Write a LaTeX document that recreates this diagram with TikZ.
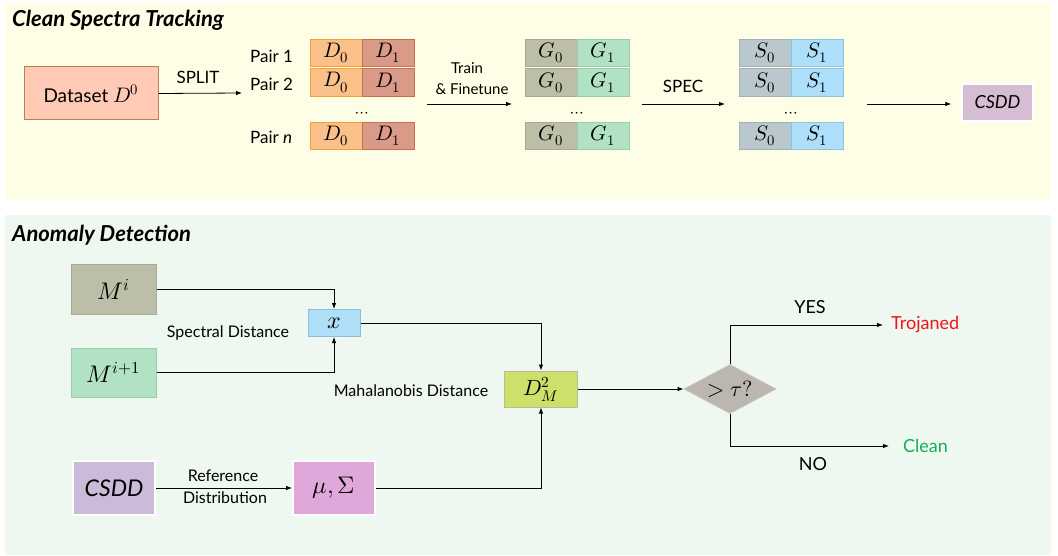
\documentclass[tikz,border=0pt]{standalone}
\usepackage{fontspec}
\usepackage{unicode-math}
\setmainfont{Lato}
\setmathfont{Latin Modern Math}
\usetikzlibrary{arrows.meta,shapes.geometric}
\newcommand\myfs[1]{\fontsize{#1}{#1}\selectfont}
\definecolor{topbg}{HTML}{FEFEE6}
\definecolor{botbg}{HTML}{EEF7F0}
\definecolor{dsfill}{HTML}{FFCAB5}
\definecolor{dsdraw}{HTML}{B88150}
\definecolor{dzfill}{HTML}{F9C08A}
\definecolor{dzdraw}{HTML}{F5A030}
\definecolor{dofill}{HTML}{D99A88}
\definecolor{dodraw}{HTML}{C8704E}
\definecolor{gzfill}{HTML}{BCBEA8}
\definecolor{gzdraw}{HTML}{A8AA94}
\definecolor{gofill}{HTML}{B2E2C4}
\definecolor{godraw}{HTML}{9CCBAE}
\definecolor{szfill}{HTML}{BAC7CC}
\definecolor{szdraw}{HTML}{A2B0B8}
\definecolor{sofill}{HTML}{AEDFFA}
\definecolor{sodraw}{HTML}{8CC4E4}
\definecolor{csfill}{HTML}{D5BED3}
\definecolor{cs2fill}{HTML}{CBBBD9}
\definecolor{mufill}{HTML}{E0A8DA}
\definecolor{xfill}{HTML}{AEDEF8}
\definecolor{xdraw}{HTML}{90BCD6}
\definecolor{dmfill}{HTML}{CCE06A}
\definecolor{dmdraw}{HTML}{B4BC98}
\definecolor{diafill}{HTML}{BCB6B0}
\definecolor{diadraw}{HTML}{C8C2BC}
\definecolor{trojred}{HTML}{F21414}
\definecolor{cleangreen}{HTML}{12B050}
\tikzset{
  cell/.style={draw, line width=0.8pt, minimum width=52pt, minimum height=27.5pt, inner sep=0pt, font=\myfs{21}},
  bigbox/.style={draw, line width=1pt, inner sep=0pt, font=\myfs{24}},
  lbl/.style={inner sep=0pt, font=\myfs{16}},
  biglbl/.style={inner sep=0pt, font=\myfs{18}},
  ttl/.style={inner sep=0pt, anchor=west, font=\myfs{22}\bfseries\itshape},
  arr/.style={-{Latex[length=6pt,width=4.5pt]}, line width=0.8pt, black}
}
\begin{document}
\begin{tikzpicture}[x=1pt,y=-1pt]
\useasboundingbox (0,0) rectangle (1058,556);
\fill[topbg] (5,3) rectangle (1051,200);
\fill[botbg] (5,215) rectangle (1051,555);

% ---------- top panel ----------
\node[ttl] (t1) at (12,20) {Clean Spectra Tracking};
\node[draw=dsdraw, fill=dsfill, line width=1pt, minimum width=134pt, minimum height=53pt, inner sep=0pt, font=\myfs{19}] (ds) at (91,93.5) {Dataset {\myfs{21}$D^0$}};

\coordinate (splitend) at (242,93);
\draw[arr] (ds.east) -- (splitend);
\node[biglbl, font=\myfs{17}] (split) at (198,77) {SPLIT};

\node[biglbl, font=\myfs{17}, anchor=base west] (p1) at (250,62.5) {Pair 1};
\node[biglbl, font=\myfs{17}, anchor=base west] (p2) at (250,90.5) {Pair 2};
\node[biglbl, font=\myfs{17}, anchor=base west] (pn) at (250,143.5) {Pair \textit{n}};

\foreach \r/\y in {a/53,b/82.5,c/136}{
  \node[cell, draw=dzdraw, fill=dzfill] (d0\r) at (336,\y) {$D_0$};
  \node[cell, draw=dodraw, fill=dofill] (d1\r) at (388,\y) {$D_1$};
  \node[cell, draw=gzdraw, fill=gzfill] (g0\r) at (551,\y) {$G_0$};
  \node[cell, draw=godraw, fill=gofill] (g1\r) at (603,\y) {$G_1$};
  \node[cell, draw=szdraw, fill=szfill] (s0\r) at (765,\y) {$S_0$};
  \node[cell, draw=sodraw, fill=sofill] (s1\r) at (817,\y) {$S_1$};
}
\node[lbl, font=\myfs{17}, anchor=base] (dd) at (362,118) {$\cdots$};
\node[lbl, font=\myfs{17}, anchor=base] (gd) at (577,118) {$\cdots$};
\node[lbl, font=\myfs{17}, anchor=base] (sd) at (791,118) {$\cdots$};

\coordinate (tr1) at (427,104);
\coordinate (tr2) at (512,104);
\draw[arr] (tr1) -- (tr2);
\node[lbl, font=\myfs{15}] (train) at (467,68) {Train};
\node[lbl, font=\myfs{15}] (fine) at (472,89) {\& Finetune};

\coordinate (sp1) at (642,104);
\coordinate (sp2) at (725,104);
\draw[arr] (sp1) -- (sp2);
\node[biglbl, font=\myfs{17}] (spec) at (683,86) {SPEC};

\node[draw=white, fill=csfill, line width=1.5pt, minimum width=71pt, minimum height=37pt, inner sep=0pt, font=\myfs{18}\itshape] (csdd1) at (997.5,102.5) {CSDD};
\coordinate (cs1) at (867,104);
\draw[arr] (cs1) -- ([xshift=-10pt]csdd1.west |- cs1);

% ---------- bottom panel ----------
\node[ttl] (t2) at (12,235) {Anomaly Detection};

\node[bigbox, draw=gzdraw, fill=gzfill, minimum width=85pt, minimum height=49pt] (mi) at (113.5,289.5) {$M^i$};
\node[bigbox, draw=godraw, fill=gofill, minimum width=85pt, minimum height=49pt] (mi1) at (113.5,372.5) {$M^{i+1}$};
\node[bigbox, draw=xdraw, fill=xfill, minimum width=52pt, minimum height=27pt] (x) at (334,323) {$x$};
\node[lbl] (specd) at (228,333) {Spectral Distance};

\draw[arr] (mi.east) -| (x.north);
\draw[arr] (mi1.east) -| (x.south);

\node[bigbox, draw=dmdraw, fill=dmfill, minimum width=73pt, minimum height=36pt, font=\myfs{22}] (dm) at (541,389) {$D_M^2$};
\node[lbl] (maha) at (411,391) {Mahalanobis Distance};
\draw[arr] (x.east) -| (dm.north);

\node[bigbox, draw=white, line width=2pt, fill=cs2fill, minimum width=82pt, minimum height=54pt, font=\myfs{23}\itshape] (csdd2) at (114,488) {CSDD};
\node[bigbox, draw=white, line width=2pt, fill=mufill, minimum width=82pt, minimum height=54pt] (mu) at (334,488) {$\mu,\Sigma$};
\draw[arr] (csdd2.east) -- (mu.west);
\node[lbl] (ref) at (223,476) {Reference};
\node[lbl] (dist) at (225,498) {Distribution};
\draw[arr] (mu.east) -| (dm.south);

\node[shape=diamond, draw=diadraw, fill=diafill, line width=0.8pt, aspect=1.88, minimum width=92pt, minimum height=49pt, inner sep=0pt, font=\myfs{22}] (dia) at (730,389) {$>\tau?$};
\draw[arr] (dm.east) -- (dia.west);

\node[biglbl, anchor=west, inner xsep=8pt, text=trojred] (troj) at (883,325) {Trojaned};
\node[biglbl, anchor=west, inner xsep=14pt, text=cleangreen] (clean) at (889,446) {Clean};
\draw[arr] (dia.north) |- (troj.west);
\draw[arr] (dia.south) |- (clean.west);
\node[biglbl] (yes) at (810,307) {YES};
\node[biglbl] (no) at (813,464) {NO};
\end{tikzpicture}
\end{document}
